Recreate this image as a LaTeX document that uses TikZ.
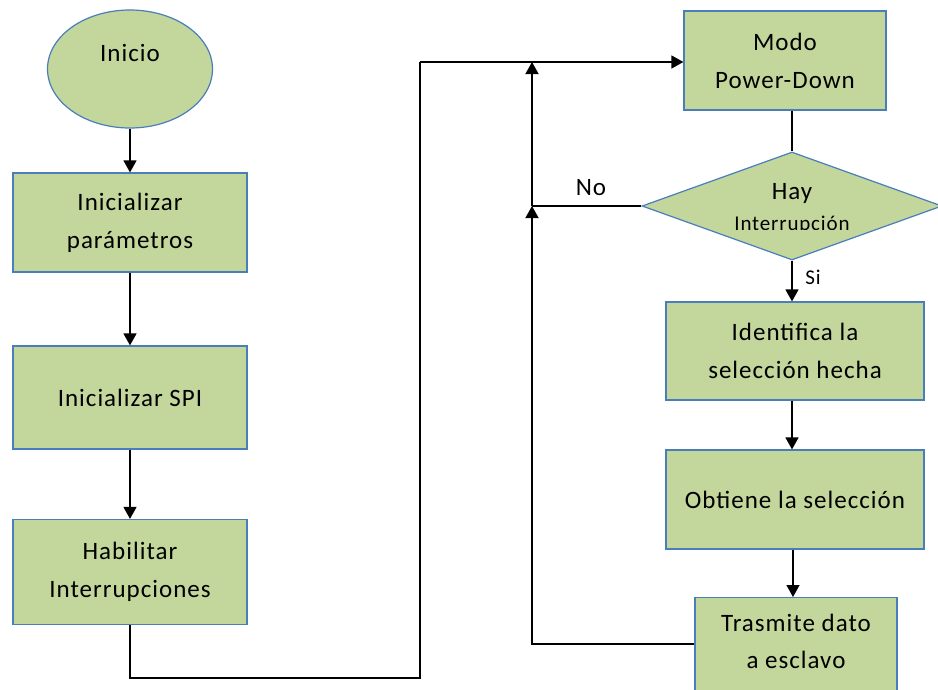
\documentclass[tikz,border=0pt]{standalone}
\usepackage{fontspec}
\setmainfont{Carlito}[LetterSpace=4]
\usetikzlibrary{arrows.meta,shapes.geometric}
\definecolor{boxfill}{HTML}{C3D69B}
\definecolor{boxline}{HTML}{4A7EBB}
\begin{document}
\begin{tikzpicture}[x=1pt,y=-1pt,
  shapebase/.style={fill=boxfill,draw=boxline,line width=1.2pt,inner sep=0pt},
  proc/.style={shapebase,rectangle,align=center,font=\fontsize{25}{38}\selectfont},
  txt/.style={inner sep=0pt,font=\fontsize{25}{29}\selectfont},
  flow/.style={line width=1.4pt,-{Triangle[width=13pt,length=12pt]}},
  link/.style={line width=1.4pt}]
\useasboundingbox (0,0) rectangle (938,689);

% left column
\node[shapebase,ellipse,minimum width=165,minimum height=118] (start) at (130,69) {};
\node[txt] (starttxt) at (130,53) {Inicio};
\node[proc,minimum width=234,minimum height=99] (params) at (130,222.5) {Inicializar\\parámetros};
\node[proc,minimum width=234,minimum height=103] (spi) at (130,397.5) {Inicializar SPI};
\node[proc,minimum width=234,minimum height=105] (irq) at (130,572) {Habilitar\\Interrupciones};

% right column
\node[proc,minimum width=202,minimum height=99] (sleep) at (785,60.5) {Modo\\Power-Down};
\node[shapebase,diamond,minimum width=300,minimum height=108] (check) at (792,206) {};
\begin{scope}
  \clip (645,165) rectangle (935,229.5);
  \node[txt] (checka) at (792,193) {Hay};
  \node[txt,font=\fontsize{21}{25}\selectfont,anchor=base] (checkb) at (792,230) {Interrupción};
\end{scope}
\node[proc,minimum width=258,minimum height=98] (ident) at (795,351) {Identifica la\\selección hecha};
\node[proc,minimum width=258,minimum height=99] (get) at (795,499.5) {Obtiene la selección};
\begin{scope}
  \clip (0,0) rectangle (938,689);
  \node[proc,minimum width=202,minimum height=120,anchor=north] (send) at (796,597) {};
\end{scope}
\node[txt,align=center,font=\fontsize{25}{37}\selectfont] (sendtxt) at (796,641.5) {Trasmite dato\\a esclavo};

% junction points of the return paths
\coordinate (corner) at (420,62);
\coordinate (merge) at (532,62);
\coordinate (nojoin) at (532,206);

% connectors
\draw[flow] (start) -- (params);
\draw[flow] (params) -- (spi);
\draw[flow] (spi) -- (irq);
\draw[link] (irq.south) |- (420,678) -- (corner);
\draw[flow] (corner) -- (sleep.west |- corner);
\draw[link] (sleep.south -| check.north) -- (check.north);
\draw[link] (check.west) -- (nojoin);
\draw[flow] (nojoin) -- (merge);
\draw[flow] (send.west |- 0,644) -- (532,644) -- (nojoin);
\draw[flow] (check.south) -- (check.south |- ident.north);
\draw[flow] (ident.south -| 792,0) -- (get.north -| 792,0);
\draw[flow] (get.south -| 793,0) -- (send.north -| 793,0);

% branch labels
\node[txt] (nolbl) at (591,188) {No};
\node[txt,font=\fontsize{21}{25}\selectfont] (silbl) at (813,277) {Si};
\end{tikzpicture}
\end{document}
